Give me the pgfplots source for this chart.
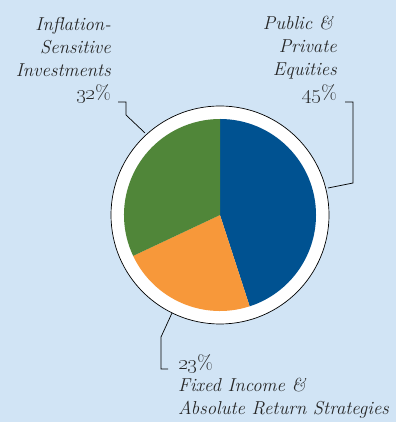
\documentclass[border=0pt]{standalone}
\usepackage{pgfplots}
\usepackage{pgfplotstable}
\pgfplotsset{compat=1.18}
\definecolor{bgblue}{RGB}{209,228,245}
\definecolor{pieblue}{RGB}{0,82,145}
\definecolor{piegreen}{RGB}{80,134,57}
\definecolor{pieorange}{RGB}{247,152,58}
\pgfplotstableread{
name value
Equities 45
Fixed 23
Inflation 32
}\piedata
\begin{document}
\begin{tikzpicture}
\pgfplotstablegetelem{0}{value}\of\piedata \let\va\pgfplotsretval
\pgfplotstablegetelem{1}{value}\of\piedata \let\vb\pgfplotsretval
\pgfplotstablegetelem{2}{value}\of\piedata \let\vc\pgfplotsretval
\pgfmathsetmacro\aA{90}
\pgfmathsetmacro\aB{\aA-3.6*\va}
\pgfmathsetmacro\aC{\aB-3.6*\vb}
\pgfmathsetmacro\aD{\aC-3.6*\vc}
\begin{axis}[hide axis, scale only axis, x=1pt, y=1pt,
  xmin=0, xmax=396, ymin=0, ymax=422, clip=false]
\fill[bgblue] (axis cs:0,0) rectangle (axis cs:396,422);
% ring
\filldraw[fill=white, draw=black, line width=0.7pt] (axis cs:220,207) circle[radius=109pt];
% slices
\fill[pieblue] (axis cs:220,207) -- ++(\aA:96pt) arc[start angle=\aA, end angle=\aB, radius=96pt] -- cycle;
\fill[pieorange] (axis cs:220,207) -- ++(\aB:96pt) arc[start angle=\aB, end angle=\aC, radius=96pt] -- cycle;
\fill[piegreen] (axis cs:220,207) -- ++(\aC:96pt) arc[start angle=\aC, end angle=\aD, radius=96pt] -- cycle;
% leaders
\draw[black, line width=0.7pt] (axis cs:118,320) -- (axis cs:126,320) -- (axis cs:126,307) -- (axis cs:145,289);
\draw[black, line width=0.7pt] (axis cs:345,320) -- (axis cs:353,320) -- (axis cs:353,239) -- (axis cs:328,234);
\draw[black, line width=0.7pt] (axis cs:172,109) -- (axis cs:161,85) -- (axis cs:161,53) -- (axis cs:168,53);
% labels
\begin{scope}[every node/.style={inner sep=0pt, font=\fontsize{18.7}{22}\selectfont\itshape, text=black!85}]
\node[anchor=base east] at (axis cs:111,391) {Inflation-};
\node[anchor=base east] at (axis cs:111,368) {Sensitive};
\node[anchor=base east] at (axis cs:111,345) {Investments};
\node[anchor=base east] at (axis cs:111,322) {\upshape\fontsize{20}{22}\selectfont\oldstylenums{32}\%};
\node[anchor=base east] at (axis cs:333,392) {Public \&};
\node[anchor=base east] at (axis cs:337,369) {Private};
\node[anchor=base east] at (axis cs:337,346) {Equities};
\node[anchor=base east] at (axis cs:337,322) {\upshape\fontsize{20}{22}\selectfont\oldstylenums{45}\%};
\node[anchor=base west] at (axis cs:178,52) {\upshape\fontsize{20}{22}\selectfont\oldstylenums{23}\%};
\node[anchor=base west] at (axis cs:178,30) {Fixed Income \&};
\node[anchor=base west] at (axis cs:178,7) {Absolute Return Strategies};
\end{scope}
\end{axis}
\end{tikzpicture}
\end{document}
